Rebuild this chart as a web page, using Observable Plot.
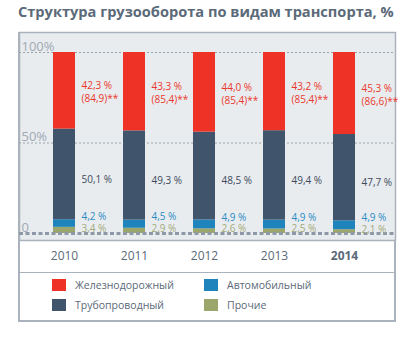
<!DOCTYPE html>
<html><head><meta charset="utf-8">
<script src="https://cdn.jsdelivr.net/npm/d3@7"></script>
<script src="https://cdn.jsdelivr.net/npm/@observablehq/plot@0.6"></script>
<style>
html,body{margin:0;padding:0;background:#fff;width:400px;height:353px;overflow:hidden;font-family:"Open Sans",sans-serif;}
#title{position:absolute;left:18px;top:1px;font-size:14.6px;font-weight:bold;color:#5b6a79;white-space:nowrap;letter-spacing:0px;}
#box{position:absolute;left:18px;top:32px;width:378px;height:290px;box-sizing:border-box;border:2px solid #aab3bd;}
#chart{position:absolute;left:0;top:30px;}
#legend{position:absolute;left:19px;top:272px;width:376px;height:48px;border-top:1.5px solid #aab3bd;box-sizing:border-box;}
.item{position:absolute;display:flex;align-items:center;font-size:10.5px;color:#5b6a79;}
.sw{width:14px;height:12px;margin-right:9px;}
</style></head><body>
<div id="title">Структура грузооборота по видам транспорта, %</div>
<div id="box"></div>
<div id="chart"></div>
<div id="legend"></div>
<script>
const years = ["2010","2011","2012","2013","2014"];
const seriesNames = ["Железнодорожный","Трубопроводный","Автомобильный","Прочие"];
const rail = [42.3, 43.3, 44.0, 43.2, 45.3];
const railAbs = [84.9, 85.4, 85.4, 85.4, 86.6];
const pipe = [50.1, 49.3, 48.5, 49.4, 47.7];
const auto = [4.2, 4.5, 4.9, 4.9, 4.9];
const other = [3.4, 2.9, 2.6, 2.5, 2.1];
const yTicks = [0, 50, 100];
const yTickLabels = ["0", "50%", "100%"];
const colors = ["#ee3226", "#40546c", "#1f84bc", "#9ba66c"];
const textColors = ["#e9382b", "#3c4a5c", "#2b8bc3", "#a2aa7a"];

const valuesBySeries = [rail, pipe, auto, other];
const fmt = v => v.toFixed(1).replace(".", ",");
// stack bottom-up: other, auto, pipe, rail
const stackOrder = [3, 2, 1, 0];
const rows = [];
years.forEach((yr, i) => {
  let base = 0;
  for (const s of stackOrder) {
    const v = valuesBySeries[s][i];
    rows.push({year: yr, series: seriesNames[s], si: s, value: v, y1: base, y2: base + v, mid: base + v / 2,
      label: s === 0 ? `${fmt(v)} %\n(${fmt(railAbs[i])})**` : `${fmt(v)} %`});
    base += v;
  }
});
const labelDy = [1, 4, -8, -3];

const marks = [
  Plot.frame({fill: "#e9ecef", stroke: "#aab3bd", strokeWidth: 1.5}),
  Plot.ruleY(yTicks.filter(t => t > 0), {stroke: "#9aa4af", strokeWidth: 1, strokeDasharray: "2,2"}),
  Plot.text(yTicks.map((t, i) => ({t, label: yTickLabels[i]})), {y: "t", text: "label", frameAnchor: "left", dx: 2, dy: -2, lineAnchor: "bottom", textAnchor: "start", fill: "#a0a9b3", fontSize: 13}),
  Plot.barY(rows, {x: "year", y1: "y1", y2: "y2", fill: "series"}),
  Plot.ruleY([0], {stroke: "#8d99a7", strokeWidth: 3, strokeDasharray: "4,2.5"}),
];
for (let s = 0; s < 4; s++) {
  marks.push(Plot.text(rows.filter(r => r.si === s), {
    x: "year", y: "mid", text: "label", dx: 17, dy: labelDy[s], textAnchor: "start",
    fill: textColors[s], fontSize: 10, lineHeight: 1.3
  }));
}
marks.push(Plot.text(years.filter(y => y !== "2014"), {x: d => d, text: d => d, frameAnchor: "bottom", dy: 19, fill: "#5b6a79", fontSize: 12}));
marks.push(Plot.text(years.filter(y => y === "2014"), {x: d => d, text: d => d, frameAnchor: "bottom", dy: 19, fill: "#5b6a79", fontSize: 12, fontWeight: "bold"}));

const chart = Plot.plot({
  width: 400, height: 242,
  marginLeft: 19, marginRight: 5, marginTop: 2, marginBottom: 32,
  style: {fontFamily: "Open Sans", background: "transparent", overflow: "visible"},
  x: {domain: years, insetRight: 7, paddingInner: 0.687, paddingOuter: 0.47, axis: null},
  y: {domain: [0, 100], insetTop: 20, insetBottom: 7, axis: null},
  color: {domain: seriesNames, range: colors},
  marks
});
document.getElementById("chart").appendChild(chart);

// legend
const legend = document.getElementById("legend");
const pos = [[33, 5], [33, 25], [185, 5], [185, 25]];
seriesNames.forEach((n, i) => {
  const d = document.createElement("div");
  d.className = "item";
  d.style.left = pos[i][0] + "px";
  d.style.top = pos[i][1] + "px";
  d.innerHTML = `<span class="sw" style="background:${colors[i]}"></span><span>${n}</span>`;
  legend.appendChild(d);
});
</script>
</body></html>
